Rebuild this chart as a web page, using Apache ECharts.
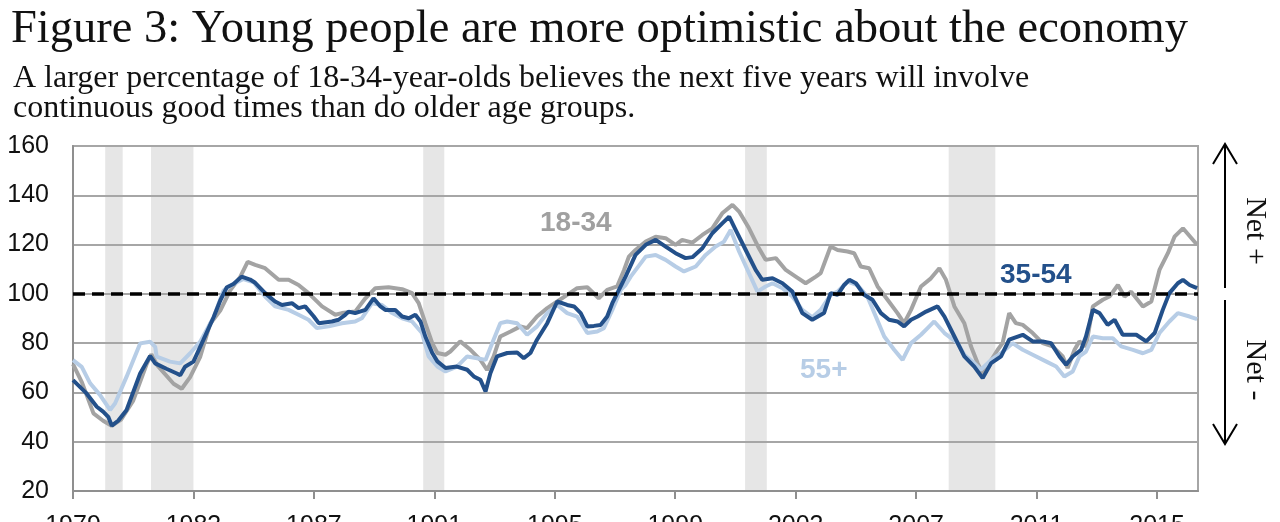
<!DOCTYPE html>
<html>
<head>
<meta charset="utf-8">
<script src="https://cdn.jsdelivr.net/npm/echarts@6/dist/echarts.min.js"></script>
<style>
html,body{margin:0;padding:0;background:#fff;}
#chart{width:1280px;height:522px;}
</style>
</head>
<body>
<div id="chart"></div>
<script>
// ---- data ----
const titleText = 'Figure 3: Young people are more optimistic about the economy';
const subText = 'A larger percentage of 18-34-year-olds believes the next five years will involve\ncontinuous good times than do older age groups.';
const tickYears = [1979, 1983, 1987, 1991, 1995, 1999, 2003, 2007, 2011, 2015];
const yTicks = [20, 40, 60, 80, 100, 120, 140, 160];
const recessions = [[1980.07, 1980.65], [1981.59, 1983.0], [1990.63, 1991.33], [2001.32, 2002.04], [2008.08, 2009.63]];

const t1834 = [1979.0,1979.3,1979.68,1980.0,1980.28,1980.6,1981.0,1981.45,1981.6,1981.8,1982.34,1982.61,1982.89,1983.22,1983.55,1983.89,1984.22,1984.55,1984.8,1985.05,1985.38,1985.83,1986.16,1986.49,1986.82,1987.27,1987.71,1987.93,1988.37,1988.71,1989.04,1989.48,1989.93,1990.26,1990.48,1990.7,1990.93,1991.1,1991.37,1991.53,1991.86,1992.2,1992.53,1992.75,1992.97,1993.19,1993.53,1993.86,1994.08,1994.41,1994.75,1995.08,1995.41,1995.74,1996.08,1996.46,1996.74,1997.07,1997.3,1997.46,1997.68,1998.02,1998.35,1998.68,1999.01,1999.23,1999.57,1999.9,2000.23,2000.56,2000.9,2001.12,2001.45,2001.78,2002.0,2002.34,2002.67,2003.0,2003.33,2003.67,2003.83,2004.16,2004.39,2004.72,2004.94,2005.16,2005.44,2005.72,2006.05,2006.38,2006.6,2006.83,2007.16,2007.49,2007.77,2007.99,2008.27,2008.6,2008.82,2009.04,2009.21,2009.43,2009.71,2009.87,2010.09,2010.31,2010.54,2010.87,2011.2,2011.53,2011.87,2012.03,2012.26,2012.42,2012.64,2012.87,2013.2,2013.42,2013.7,2013.92,2014.14,2014.53,2014.81,2015.08,2015.36,2015.58,2015.86,2016.33];
const v1834 = [71.5,64,51.5,48.5,46.5,49,56.7,71.6,75.5,71,63.5,61.5,66.2,74.3,87.8,93.2,101.4,106.8,113,111.8,110.4,105.7,105.7,103.6,100.3,94.9,91.5,92.2,92.8,98.2,102.3,102.7,101.9,100.3,96.2,88.1,80,76,75.3,76.6,80.7,77.3,73.2,69.1,74.6,82.7,84.7,86.8,86.1,90.8,94.2,96.9,99.6,102.3,102.7,98.2,101.6,103,109.7,115.1,117.8,121.2,123.2,122.6,119.9,121.9,120.8,123.9,126.6,132.7,136.1,133.4,126.6,118.5,113.8,114.5,109.7,107,104.3,107,108.4,119.2,117.8,117.2,116.5,111.1,110.4,103,97.6,92.2,88.1,93.5,103,106.3,110.4,105.7,94.9,88.1,78.7,71.9,67.8,71.9,77.3,80,92.2,88.1,87.4,84.1,80,78.7,74.6,69.9,77.3,80.7,78.7,94.9,97.6,98.9,103.6,98.9,100.9,94.9,96.9,109.7,116.5,123.2,126.6,119.9];

const t3554 = [1979.0,1979.45,1979.79,1980.0,1980.17,1980.29,1980.5,1980.78,1981.23,1981.56,1981.73,1982.1,1982.45,1982.56,1982.72,1983.0,1983.33,1983.67,1983.89,1984.11,1984.33,1984.6,1984.88,1985.05,1985.38,1985.71,1985.94,1986.27,1986.49,1986.71,1986.99,1987.16,1987.6,1987.82,1988.04,1988.15,1988.37,1988.71,1988.98,1989.21,1989.37,1989.7,1989.93,1990.15,1990.37,1990.54,1990.7,1990.93,1991.1,1991.37,1991.75,1992.09,1992.31,1992.53,1992.7,1992.86,1993.08,1993.42,1993.75,1993.97,1994.19,1994.41,1994.75,1995.08,1995.41,1995.64,1995.86,1996.08,1996.3,1996.52,1996.74,1996.91,1997.13,1997.35,1997.68,1998.02,1998.35,1998.68,1999.01,1999.34,1999.57,1999.9,2000.23,2000.56,2000.79,2001.01,2001.34,2001.67,2001.89,2002.23,2002.56,2002.89,2003.22,2003.55,2003.94,2004.16,2004.39,2004.61,2004.78,2005.0,2005.27,2005.55,2005.83,2006.1,2006.38,2006.6,2006.83,2007.05,2007.33,2007.71,2007.94,2008.27,2008.6,2008.93,2009.21,2009.49,2009.82,2010.09,2010.54,2010.87,2011.2,2011.48,2011.76,2011.98,2012.2,2012.48,2012.64,2012.87,2013.09,2013.36,2013.59,2013.86,2014.31,2014.64,2014.92,2015.19,2015.41,2015.69,2015.86,2016.08,2016.33];
const v3554 = [65,59.6,54.2,52.2,50.1,46.5,48.5,52.9,67.7,74.8,71.8,69.6,67.7,67,70.4,72.5,81.3,90.5,97.3,102.7,104,107,105.8,104.5,100.3,96.9,95.5,96.2,94.2,94.9,90.9,88.1,88.8,89.5,91.5,92.8,92.2,93.5,98.2,94.9,93.5,93.5,90.8,90.1,91.5,88.8,82.7,76,72.6,69.9,70.5,69.2,66.5,65.1,60.4,67.8,74.6,76,76.2,73.9,76,81.4,88.1,96.9,95.5,94.9,92.2,86.8,87,87.4,90.8,96.2,101.6,107,115.8,119.9,121.9,119.2,116.5,114.5,114.9,118.5,124.6,128.6,131.3,125.9,117.8,109.7,105.7,106.3,104.3,100.9,92.2,89.5,92.2,100.3,99.6,103.6,105.7,104.3,99.6,97.6,92.2,89.5,88.8,86.8,89.5,90.8,92.8,94.9,90.8,82.7,74.6,70.5,65.8,71.9,74.6,81.4,83.4,80.7,80.7,80,74.6,71.2,74.6,77.3,82.7,93.5,92.2,87.4,89.5,83.4,83.4,80.7,84.1,93.5,100.3,104.3,105.7,103.6,102.3];

const t55 = [1979.0,1979.29,1979.57,1979.9,1980.23,1980.4,1980.78,1981.23,1981.56,1981.73,1981.78,1982.22,1982.56,1982.89,1983.22,1983.67,1984.0,1984.33,1984.66,1985.0,1985.38,1985.71,1986.16,1986.49,1986.82,1987.1,1987.49,1987.93,1988.37,1988.59,1988.93,1989.26,1989.6,1989.93,1990.26,1990.59,1990.81,1991.1,1991.37,1991.75,1992.09,1992.42,1992.7,1992.92,1993.19,1993.42,1993.75,1994.08,1994.41,1994.75,1995.08,1995.41,1995.74,1996.08,1996.41,1996.63,1996.91,1997.19,1997.35,1997.52,1998.02,1998.35,1998.68,1999.01,1999.29,1999.68,2000.01,2000.34,2000.62,2000.84,2001.12,2001.45,2001.73,2002.0,2002.23,2002.56,2002.89,2003.22,2003.55,2003.83,2004.16,2004.39,2004.72,2005.05,2005.38,2005.66,2005.94,2006.27,2006.55,2006.83,2007.16,2007.38,2007.6,2007.94,2008.38,2008.6,2008.93,2009.15,2009.49,2009.82,2010.2,2010.54,2010.87,2011.31,2011.65,2011.92,2012.2,2012.42,2012.64,2012.87,2013.2,2013.53,2013.81,2014.2,2014.53,2014.81,2015.08,2015.41,2015.69,2016.08,2016.33];
const v55 = [73.1,70.4,63.7,58.9,52.9,55.6,66.4,79.9,80.6,78.5,74.5,72.5,71.8,75.9,80.5,90.5,101.4,104,106,104.7,98.9,94.9,93.5,91.5,89.5,86.1,86.8,88.1,88.8,90.1,96.2,95.5,92.2,90.1,88.8,84.1,74.6,70.5,68.5,70.5,74.6,73.9,73.2,80,88.1,88.8,88.1,83.4,86.8,92.2,95.5,92.2,90.8,84.1,84.7,86.1,93.5,101.6,103.6,107,115.1,115.8,113.8,111.1,109.1,111.1,115.8,119.2,121.2,125.9,117.2,108.4,100.9,103,104.3,102.3,98.9,93.5,90.5,93.5,99.6,100.9,105,103.6,98.9,90.8,82.7,77.3,73.2,80,83.4,86.1,88.8,84.1,80,75.3,71.9,69.2,73.2,75.9,80,77.3,75.3,72.6,70.5,66.5,68.5,74.6,76.6,82.7,82,82,78.7,77.3,75.9,77.3,84.1,88.8,92.2,90.8,89.7];

const baseline = 100;

// ---- chart ----
const chart = echarts.init(document.getElementById('chart'), null, {renderer: 'canvas'});
const pair = (t, v) => t.map((x, i) => [x, v[i]]);
const axisFont = {fontFamily: 'Liberation Sans, Arial, sans-serif', fontSize: 25, color: '#111'};
const C_GRAY = '#a3a3a3', C_DARK = '#23508a', C_LIGHT = '#b7cde6';

const option = {
  animation: false,
  backgroundColor: '#fff',
  title: [
    {text: titleText, left: 6, top: 1,
     textStyle: {fontFamily: 'Liberation Serif, Times New Roman, serif', fontWeight: 'normal', fontSize: 46.5, color: '#111'}},
    {text: subText, left: 8, top: 59,
     textStyle: {fontFamily: 'Liberation Serif, Times New Roman, serif', fontWeight: 'normal', fontSize: 32, lineHeight: 30, color: '#111'}}
  ],
  grid: {left: 73, right: 82, top: 146, bottom: 31, show: true, borderColor: '#a6a6a6', borderWidth: 2,
         containLabel: false, outerBoundsMode: 'none'},
  xAxis: {
    type: 'value', min: 1979, max: 2016.36, z: 2,
    axisLine: {show: true, lineStyle: {color: '#8f8f8f', width: 2}},
    axisTick: {show: true, customValues: tickYears, length: 8, inside: false, lineStyle: {color: '#8f8f8f', width: 2}},
    axisLabel: Object.assign({customValues: tickYears, margin: 23, formatter: v => String(Math.round(v))}, axisFont),
    splitLine: {show: false}
  },
  yAxis: {
    type: 'value', min: 20, max: 160, interval: 20, z: 2,
    axisLine: {show: true, lineStyle: {color: '#8f8f8f', width: 2}},
    axisTick: {show: false},
    axisLabel: Object.assign({margin: 24}, axisFont),
    splitLine: {show: true, lineStyle: {color: '#a6a6a6', width: 2}}
  },
  series: [
    {name: 'recessions', type: 'line', data: [], z: 1, silent: true,
     markArea: {silent: true, z: 1, itemStyle: {color: '#e6e6e6'},
       data: recessions.map(r => [{xAxis: r[0]}, {xAxis: r[1]}])}},
    {name: '18-34', type: 'line', data: pair(t1834, v1834), z: 3, showSymbol: false, symbol: 'none',
     lineStyle: {color: C_GRAY, width: 4}},
    {name: '55+', type: 'line', data: pair(t55, v55), z: 3, showSymbol: false, symbol: 'none',
     lineStyle: {color: C_LIGHT, width: 4}},
    {name: '35-54', type: 'line', data: pair(t3554, v3554), z: 3, showSymbol: false, symbol: 'none',
     lineStyle: {color: C_DARK, width: 4},
     markLine: {silent: true, symbol: 'none', z: 4, label: {show: false},
       lineStyle: {color: '#000', width: 3.5, type: [12, 7]},
       data: [{yAxis: baseline}]}}
  ],
  graphic: [
    {type: 'text', left: 540, top: 209, style: {text: '18-34', font: 'bold 28px Liberation Sans, Arial, sans-serif', fill: '#a0a0a0'}},
    {type: 'text', left: 1000, top: 261, style: {text: '35-54', font: 'bold 28px Liberation Sans, Arial, sans-serif', fill: C_DARK}},
    {type: 'text', left: 800, top: 356, style: {text: '55+', font: 'bold 28px Liberation Sans, Arial, sans-serif', fill: C_LIGHT}},
    // arrows
    {type: 'line', shape: {x1: 1225, y1: 144, x2: 1225, y2: 288}, style: {stroke: '#000', lineWidth: 2}},
    {type: 'polyline', shape: {points: [[1213, 164], [1225, 144], [1237, 164]]}, style: {stroke: '#000', lineWidth: 2, fill: null}},
    {type: 'line', shape: {x1: 1225, y1: 300, x2: 1225, y2: 444}, style: {stroke: '#000', lineWidth: 2}},
    {type: 'polyline', shape: {points: [[1213, 424], [1225, 444], [1237, 424]]}, style: {stroke: '#000', lineWidth: 2, fill: null}},
    {type: 'text', x: 1255, y: 231, rotation: -Math.PI / 2,
     style: {text: 'Net +', font: '30px Liberation Serif, Times New Roman, serif', fill: '#111', align: 'center', verticalAlign: 'middle'}},
    {type: 'text', x: 1255, y: 370, rotation: -Math.PI / 2,
     style: {text: 'Net -', font: '30px Liberation Serif, Times New Roman, serif', fill: '#111', align: 'center', verticalAlign: 'middle'}}
  ]
};
chart.setOption(option);
</script>
</body>
</html>
